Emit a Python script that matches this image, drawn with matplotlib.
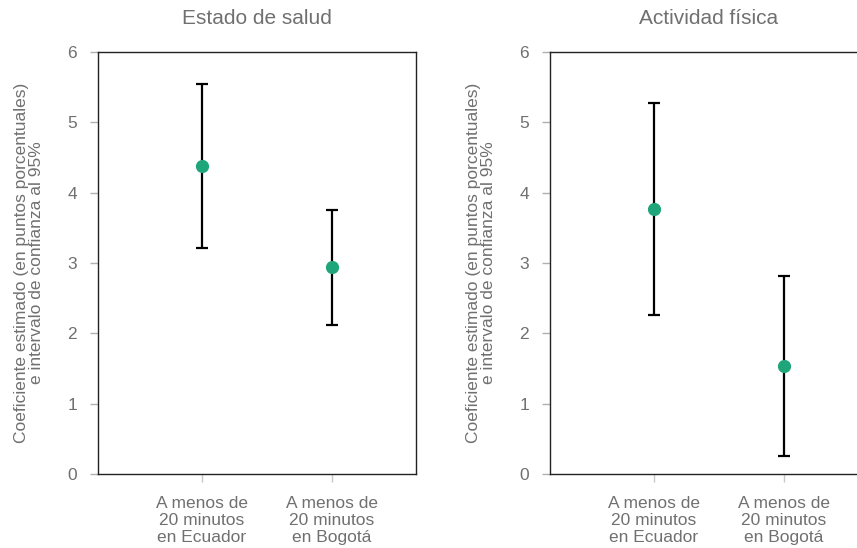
import matplotlib.pyplot as plt

plt.rcParams['font.family'] = ['Liberation Sans', 'DejaVu Sans']

categorias = ["A menos de\n20 minutos\nen Ecuador", "A menos de\n20 minutos\nen Bogotá"]
titulos = ["Estado de salud", "Actividad física"]

# coeficiente estimado, limite inferior y superior (IC 95%)
salud_coef = [4.38, 2.94]
salud_inf = [3.21, 2.12]
salud_sup = [5.55, 3.76]

actividad_coef = [3.77, 1.54]
actividad_inf = [2.26, 0.25]
actividad_sup = [5.27, 2.81]

verde = "#1fa57a"
gris = "#707070"

fig = plt.figure(figsize=(8.57, 5.48), dpi=100)
ax1 = fig.add_axes([98 / 857, 74 / 548, 318 / 857, 422 / 548])
ax2 = fig.add_axes([550 / 857, 74 / 548, 318 / 857, 422 / 548])

paneles = [
    (ax1, titulos[0], salud_coef, salud_inf, salud_sup),
    (ax2, titulos[1], actividad_coef, actividad_inf, actividad_sup),
]

for ax, titulo, coef, inf, sup in paneles:
    x = [1, 2]
    err = [[c - i for c, i in zip(coef, inf)], [s - c for c, s in zip(coef, sup)]]
    ax.errorbar(x, coef, yerr=err, fmt="none", ecolor="black", elinewidth=1.6,
                capsize=4.5, capthick=1.6, zorder=2)
    ax.plot(x, coef, "o", color=verde, markersize=8.5, zorder=3)
    ax.set_xlim(0.2, 2.646)
    ax.set_ylim(0, 6)
    ax.set_xticks(x)
    ax.set_xticklabels(categorias, fontsize=12.5, color=gris, linespacing=1.15)
    ax.set_yticks(range(7))
    ax.tick_params(axis="y", length=6, width=1, color="#b0b0b0", labelcolor=gris,
                   labelsize=12.5, pad=9)
    ax.tick_params(axis="x", length=6, width=1, color="#c8c8c8", pad=10)
    ax.set_title(titulo, fontsize=15, color=gris, pad=20)
    ax.set_ylabel("Coeficiente estimado (en puntos porcentuales)\ne intervalo de confianza al 95%",
                  fontsize=12.5, color=gris, labelpad=17, linespacing=1.0)
    for sp in ax.spines.values():
        sp.set_color("#222222")
        sp.set_linewidth(1.0)

fig.savefig("out.png", dpi=100)
